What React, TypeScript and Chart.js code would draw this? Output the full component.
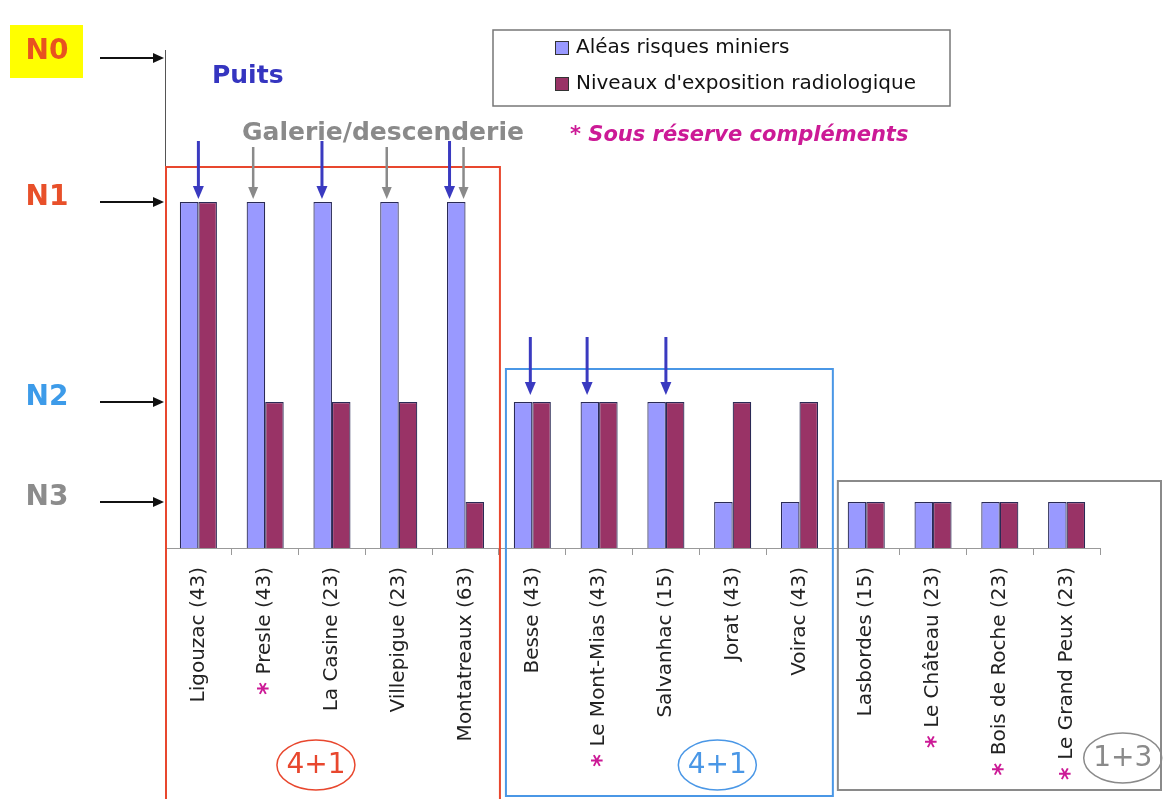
import React, { useEffect, useRef } from 'react';
import { Chart, registerables } from 'chart.js';

Chart.register(...registerables);

// ---------- data ----------
const categories = [
  'Ligouzac (43)', 'Presle (43)', 'La Casine (23)', 'Villepigue (23)', 'Montatreaux (63)',
  'Besse (43)', 'Le Mont-Mias (43)', 'Salvanhac (15)', 'Jorat (43)', 'Voirac (43)',
  'Lasbordes (15)', 'Le Château (23)', 'Bois de Roche (23)', 'Le Grand Peux (23)',
];
const starred = [false, true, false, false, false, false, true, false, false, false, false, true, true, true];
const aleasRisques = [7, 7, 7, 7, 7, 3, 3, 3, 1, 1, 1, 1, 1, 1];
const niveauxExposition = [7, 3, 3, 3, 1, 3, 3, 3, 3, 3, 1, 1, 1, 1];
const seriesLabels = ['Aléas risques miniers', "Niveaux d'exposition radiologique"];

const levelLabels = ['N0', 'N1', 'N2', 'N3'];
const levelValues = [9.88, 7, 3, 1];

const puitsArrows = [0, 2, 4, 5, 6, 7];
const galerieArrows = [1, 3, 4];

const groupLabels = ['4+1', '4+1', '1+3'];
const groupStart = [0, 5, 10];
const groupEnd = [4, 9, 13];
const groupLevel = [7, 3, 1];

// ---------- styles ----------
const BLUE = '#9999ff';
const MAROON = '#993366';
const levelColors = ['#e8531f', '#e8502a', '#3d9be9', '#8c8c8c'];
const groupColors = ['#e8472e', '#4a97e6', '#8a8a8a'];
const puitsDx = [0, -10, -16, -2, -12, 0];
const galerieDx = [-12, -12, -2];
const FONT = '"DejaVu Sans", Verdana, sans-serif';
const LABEL_SIZE = 20;

function arrow(ctx: CanvasRenderingContext2D, x1: number, y1: number, x2: number, y2: number, color: string, lw: number, head: number, hw: number) {
  const ang = Math.atan2(y2 - y1, x2 - x1);
  const bx = x2 - Math.cos(ang) * head;
  const by = y2 - Math.sin(ang) * head;
  ctx.save();
  ctx.strokeStyle = color;
  ctx.fillStyle = color;
  ctx.lineWidth = lw;
  ctx.beginPath();
  ctx.moveTo(x1, y1);
  ctx.lineTo(bx, by);
  ctx.stroke();
  ctx.beginPath();
  ctx.moveTo(x2, y2);
  ctx.lineTo(bx + Math.sin(ang) * hw, by - Math.cos(ang) * hw);
  ctx.lineTo(bx - Math.sin(ang) * hw, by + Math.cos(ang) * hw);
  ctx.closePath();
  ctx.fill();
  ctx.restore();
}

const overlayPlugin = {
  id: 'overlay',
  afterDraw(chart: any) {
    const ctx: CanvasRenderingContext2D = chart.ctx;
    const x = chart.scales.x;
    const y = chart.scales.y;
    const W = chart.width;

    // level labels + arrows
    levelLabels.forEach((lab, i) => {
      const py = y.getPixelForValue(levelValues[i]);
      ctx.save();
      if (i === 0) {
        ctx.fillStyle = '#ffff00';
        ctx.fillRect(10, py - 33, 73, 53);
      }
      ctx.font = `bold 28px ${FONT}`;
      ctx.fillStyle = levelColors[i];
      ctx.textAlign = 'center';
      ctx.textBaseline = 'middle';
      ctx.fillText(lab, 47, py - (i === 0 ? 6 : 4));
      ctx.restore();
      arrow(ctx, 100, py, x.left - 1, py, '#111', 2, 11, 5);
    });

    // group boxes
    groupLabels.forEach((lab, g) => {
      const b1 = x.getPixelForValue(groupStart[g] - 0.5);
      const b2 = x.getPixelForValue(groupEnd[g] + 0.5);
      const ly = y.getPixelForValue(groupLevel[g]);
      let left: number, right: number, top: number, bottom: number;
      if (g === 0) { left = b1 + 1; right = b2 + 1; top = ly - 35; bottom = chart.height + 5; }
      else if (g === 1) { left = b1 + 7; right = b2; top = ly - 33; bottom = chart.height - 3; }
      else { left = b1 + 5; right = W - 2; top = ly - 21; bottom = chart.height - 9; }
      ctx.save();
      ctx.strokeStyle = groupColors[g];
      ctx.lineWidth = 2;
      ctx.strokeRect(left, top, right - left, bottom - top);
      // ellipse label
      let cx: number, cy: number;
      if (g === 0) { cx = x.getPixelForValue(1.76); cy = 765; }
      else if (g === 1) { cx = x.getPixelForValue(7.77); cy = 765; }
      else { cx = x.getPixelForValue(13.84); cy = 758; }
      ctx.lineWidth = 1.5;
      ctx.beginPath();
      ctx.ellipse(cx, cy, 39, 25, 0, 0, Math.PI * 2);
      ctx.stroke();
      ctx.fillStyle = groupColors[g];
      ctx.font = `28px ${FONT}`;
      ctx.textAlign = 'center';
      ctx.textBaseline = 'middle';
      ctx.fillText(lab, cx, cy + 1);
      ctx.restore();
    });

    // asterisks on labels
    ctx.save();
    ctx.font = `${LABEL_SIZE}px ${FONT}`;
    categories.forEach((c, i) => {
      if (!starred[i]) return;
      const w = ctx.measureText(c).width;
      const px = x.getPixelForValue(i);
      const py = x.top + 19 + w + 14;
      ctx.save();
      ctx.translate(px, py);
      ctx.rotate(-Math.PI / 2);
      ctx.fillStyle = '#cc1a96';
      ctx.font = `bold 24px ${FONT}`;
      ctx.textAlign = 'center';
      ctx.textBaseline = 'middle';
      ctx.fillText('*', 0, 4);
      ctx.restore();
    });
    ctx.restore();

    // down arrows
    const meta0 = chart.getDatasetMeta(0);
    const meta1 = chart.getDatasetMeta(1);
    puitsArrows.forEach((idx, k) => {
      const px = x.getPixelForValue(idx) + puitsDx[k];
      const tip = Math.min(meta0.data[idx].y, meta1.data[idx].y) - (idx < 5 ? 3 : 7);
      arrow(ctx, px, tip - 58, px, tip, '#3a3ac0', 3, 13, 5.5);
    });
    galerieArrows.forEach((idx, k) => {
      const px = x.getPixelForValue(idx) + galerieDx[k];
      const tip = meta0.data[idx].y - 3;
      arrow(ctx, px, tip - 52, px, tip, '#8a8a8a', 2.5, 12, 5);
    });

    // texts
    ctx.save();
    ctx.textBaseline = 'alphabetic';
    ctx.textAlign = 'left';
    ctx.font = `bold 25px ${FONT}`;
    ctx.fillStyle = '#3535c0';
    ctx.fillText('Puits', 212, 83);
    ctx.fillStyle = '#8a8a8a';
    ctx.fillText('Galerie/descenderie', 242, 140);
    ctx.font = `italic bold 21px ${FONT}`;
    ctx.fillStyle = '#cc1a96';
    ctx.fillText('* Sous réserve compléments', 570, 141);
    ctx.restore();

    // legend
    ctx.save();
    ctx.fillStyle = '#ffffff';
    ctx.fillRect(493, 30, 457, 76);
    ctx.strokeStyle = '#777';
    ctx.lineWidth = 1.5;
    ctx.strokeRect(493, 30, 457, 76);
    const colors = [BLUE, MAROON];
    chart.data.datasets.forEach((ds: any, i: number) => {
      const cy = 48 + i * 36;
      ctx.fillStyle = colors[i];
      ctx.fillRect(555, cy - 7, 14, 14);
      ctx.strokeStyle = '#333';
      ctx.lineWidth = 1;
      ctx.strokeRect(555.5, cy - 6.5, 13, 13);
      ctx.fillStyle = '#111';
      ctx.font = `20px ${FONT}`;
      ctx.textBaseline = 'middle';
      ctx.fillText(ds.label, 576, cy);
    });
    ctx.restore();
  },
};

export default function App() {
  const ref = useRef<HTMLCanvasElement | null>(null);
  useEffect(() => {
    document.body.style.margin = '0';
    if (!ref.current) return;
    const chart = new Chart(ref.current, {
      type: 'bar',
      data: {
        labels: categories,
        datasets: [
          { label: seriesLabels[0], data: aleasRisques, backgroundColor: BLUE, borderColor: '#2a2a55', borderWidth: 1.2, categoryPercentage: 0.555, barPercentage: 1 },
          { label: seriesLabels[1], data: niveauxExposition, backgroundColor: MAROON, borderColor: '#2a2a55', borderWidth: 1.2, categoryPercentage: 0.555, barPercentage: 1 },
        ],
      },
      options: {
        responsive: false,
        animation: false,
        layout: { padding: { top: 50, right: 63, left: 0, bottom: 0 } },
        plugins: { legend: { display: false }, tooltip: { enabled: false } },
        scales: {
          x: {
            grid: { display: true, drawOnChartArea: false, tickLength: 7, color: '#999' },
            border: { color: '#999' },
            ticks: {
              autoSkip: false, minRotation: 90, maxRotation: 90, padding: 12,
              color: '#222', font: { family: FONT, size: LABEL_SIZE },
            },
            afterFit: (s: any) => { s.height = 251; s.paddingLeft = 0; s.paddingRight = 0; },
          },
          y: {
            min: 0.08,
            max: 10.04,
            grid: { display: false },
            border: { color: '#555' },
            ticks: { display: false },
            afterFit: (s: any) => { s.width = 165; s.paddingTop = 0; s.paddingBottom = 0; },
          },
        },
      },
      plugins: [overlayPlugin],
    });
    return () => chart.destroy();
  }, []);
  return <canvas ref={ref} width={1163} height={799} style={{ display: 'block' }} />;
}
